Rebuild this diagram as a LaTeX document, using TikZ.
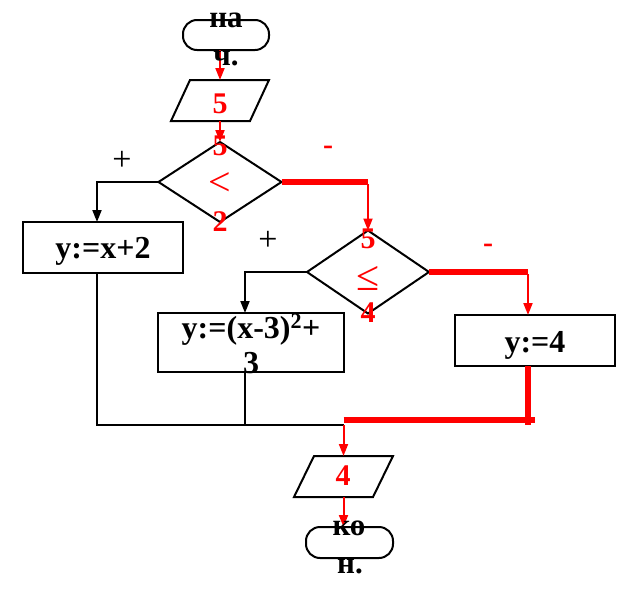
\documentclass[tikz,border=0pt]{standalone}
\usepackage{fontspec}
\setmainfont{Liberation Serif}
\usetikzlibrary{shapes.geometric,arrows.meta}
\begin{document}
\begin{tikzpicture}[x=1pt,y=-1pt,
  every node/.style={inner sep=0pt,outer sep=0pt},
  shapeline/.style={draw=black,line width=2pt},
  term/.style={shapeline,rectangle,rounded corners=14pt},
  ioframe/.style={rectangle,minimum width=79pt,minimum height=41pt},
  cond/.style={shapeline,diamond},
  proc/.style={shapeline,rectangle},
  blk/.style={line width=2pt,draw=black},
  blkarrow/.style={blk,-{Triangle[length=12pt,width=9pt]}},
  redarrow/.style={line width=2pt,draw=red,-{Triangle[length=12pt,width=9pt]}},
  redthick/.style={line width=5.5pt,draw=red},
  btxt/.style={font=\fontsize{32}{38}\selectfont\bfseries,anchor=base},
  ttxt/.style={font=\fontsize{31}{38}\selectfont\bfseries,anchor=base},
  rtxt/.style={font=\fontsize{30}{36}\selectfont\bfseries,text=red,anchor=base},
  rtxtn/.style={font=\fontsize{30}{36}\selectfont,text=red,anchor=base},
  signtxt/.style={font=\fontsize{34}{36}\selectfont,anchor=base},
]
\useasboundingbox (0,0) rectangle (625,592);
% shapes
\node[term,minimum width=86pt,minimum height=30pt] (start) at (226,35) {};
\node[ioframe] (in1) at (220,100.5) {};
\draw[shapeline] ([xshift=9.5pt]in1.north west) -- ([xshift=9.5pt]in1.north east)
  -- ([xshift=-9.5pt]in1.south east) -- ([xshift=-9.5pt]in1.south west) -- cycle;
\node[cond,minimum width=123pt,minimum height=80pt] (d1) at (220,182) {};
\node[proc,minimum width=160pt,minimum height=51pt] (box1) at (103,247.5) {};
\node[cond,minimum width=122pt,minimum height=83pt] (d2) at (368,272) {};
\node[proc,minimum width=186pt,minimum height=59pt] (box2) at (251,342.5) {};
\node[proc,minimum width=160pt,minimum height=51pt] (box3) at (535,340.5) {};
\node[ioframe] (in2) at (343.5,476.5) {};
\draw[shapeline] ([xshift=10pt]in2.north west) -- ([xshift=10pt]in2.north east)
  -- ([xshift=-10pt]in2.south east) -- ([xshift=-10pt]in2.south west) -- cycle;
\node[term,minimum width=87pt,minimum height=31pt] (stop) at (349.5,542.5) {};
% helper coordinates
\coordinate (b1in) at ([xshift=-6pt]box1.north);
\coordinate (b1out) at ([xshift=-6pt]box1.south);
\coordinate (b2in) at ([xshift=-6pt]box2.north);
\coordinate (b2out) at ([xshift=-6pt]box2.south);
\coordinate (b3in) at ([xshift=-7pt]box3.north);
\coordinate (b3out) at ([xshift=-7pt]box3.south);
\coordinate (j1) at (b1out |- 0,425);
\coordinate (j2) at (b2out |- 0,425);
\coordinate (j3) at (in2.north |- 0,425);
\coordinate (j4) at (b3out |- 0,425);
\coordinate (r1) at (in2.north |- 0,420);
\coordinate (r2) at ([xshift=7pt]b3out |- 0,420);
% connectors
\draw[redarrow] (in1.north |- start.south) -- (in1.north);
\draw[redarrow] (in1.south) -- (d1.north);
\draw[blkarrow] (d1.west) -| (b1in);
\draw[redthick] (d1.east) -- (d2.north |- d1.east);
\draw[redarrow] ([yshift=-2pt]d2.north |- d1.east) -- (d2.north);
\draw[blkarrow] (d2.west) -| (b2in);
\draw[redthick] (d2.east) -- (b3in |- d2.east);
\draw[redarrow] ([yshift=-2pt]b3in |- d2.east) -- (b3in);
\draw[blk] (b1out) -- (j1) -- (j3);
\draw[blk] (b2out) -- (j2);
\draw[redthick] (b3out) -- (j4);
\draw[redthick] (r1) -- (r2);
\draw[redarrow] (j3) -- (in2.north);
\draw[redarrow] (in2.south) -- (in2.south |- stop.north);
% texts
\node[ttxt] (t1a) at (226,27) {на};
\node[ttxt] (t1b) at (226,65) {ч.};
\node[rtxt] (in1t) at (220,113) {5};
\node[rtxt] (d1a) at (220,155) {5};
\node[rtxtn,font=\fontsize{40}{40}\selectfont] (d1b) at (220,195) {<};
\node[rtxt] (d1c) at (220,231) {2};
\node[rtxt] (d2a) at (368,248) {5};
\node[rtxtn,font=\fontsize{42}{42}\selectfont] (d2b) at (368,290) {≤};
\node[rtxt] (d2c) at (368,322) {4};
\node[btxt] (b1t) at (103,258) {y:=x+2};
\node[btxt] (b2ta) at (251,338) {y:=(x-3)\textsuperscript{\fontsize{22}{22}\selectfont 2}+};
\node[btxt] (b2tb) at (251,373) {3};
\node[btxt] (b3t) at (535,352) {y:=4};
\node[rtxt] (in2t) at (343,485) {4};
\node[ttxt] (t2a) at (349,535) {ко};
\node[ttxt] (t2b) at (350,573) {н.};
\node[signtxt] (p1) at (122,170) {+};
\node[rtxt] (m1) at (328,154) {-};
\node[signtxt] (p2) at (268,250) {+};
\node[rtxt] (m2) at (488,252) {-};
\end{tikzpicture}
\end{document}
